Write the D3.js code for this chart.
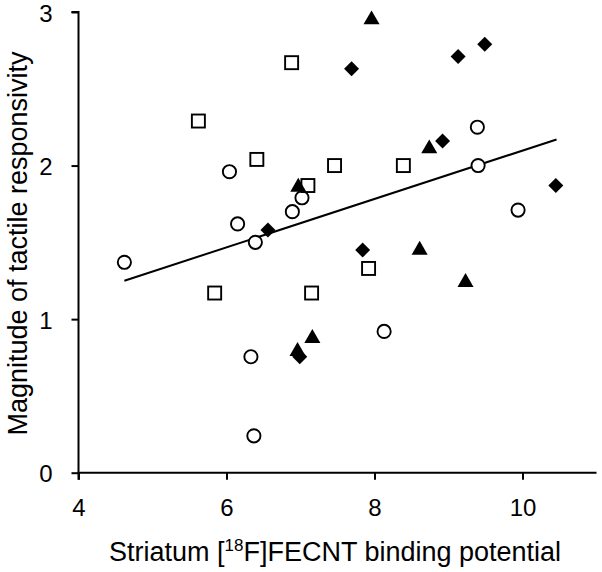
<!DOCTYPE html>
<html>
<head>
<meta charset="utf-8">
<script src="https://cdn.jsdelivr.net/npm/d3@7"></script>
<style>
  html, body { margin: 0; padding: 0; background: #fff; }
  svg { display: block; }
  text { font-family: "Liberation Sans", Arial, sans-serif; fill: #000; }
</style>
</head>
<body>
<div id="chart"></div>
<script>
// ---- Data ----
const circleX   = [4.62, 6.04, 6.15, 6.39, 6.89, 7.02, 6.33, 6.37, 8.13, 9.39, 9.40, 9.94];
const circleY   = [1.37, 1.96, 1.62, 1.50, 1.70, 1.79, 0.755, 0.24, 0.92, 2.25, 2.00, 1.71];
const squareX   = [5.62, 6.41, 6.88, 7.10, 7.46, 8.39, 5.84, 7.15, 7.92];
const squareY   = [2.29, 2.04, 2.67, 1.87, 2.00, 2.00, 1.17, 1.17, 1.33];
const triangleX = [7.96, 8.74, 6.97, 7.16, 6.96, 8.61, 9.23];
const triangleY = [2.95, 2.11, 1.86, 0.875, 0.79, 1.45, 1.24];
const diamondX  = [7.69, 8.92, 9.13, 9.49, 10.45, 6.56, 7.84, 6.99];
const diamondY  = [2.63, 2.16, 2.71, 2.79, 1.87, 1.58, 1.45, 0.755];
const fitX      = [4.62, 10.46];
const fitY      = [1.25, 2.17];
const xTicks    = [4, 6, 8, 10];
const yTicks    = [0, 1, 2, 3];
const xLabelParts = ["Striatum [", "18", "F]FECNT binding potential"];
const yLabel    = "Magnitude of tactile responsivity";

// ---- Layout ----
const W = 602, H = 572;
const svg = d3.select("#chart").append("svg").attr("width", W).attr("height", H);

const x = d3.scaleLinear().domain([4, 11]).range([78.5, 596.5]);
const y = d3.scaleLinear().domain([0, 3]).range([472.7, 12]);

// axes
const xAxis = d3.axisBottom(x).tickValues(xTicks).tickSize(7).tickPadding(19).tickFormat(d3.format("d"));
const yAxis = d3.axisLeft(y).tickValues(yTicks).tickSize(7).tickPadding(19).tickFormat(d3.format("d"));

const gx = svg.append("g").attr("transform", `translate(0,${y(0)})`).call(xAxis);
const gy = svg.append("g").attr("transform", `translate(${x(4)},0)`).call(yAxis);

gx.select(".domain").attr("d", `M${x(4)},7V0H${x(11)}`);
gy.select(".domain").attr("d", `M-7,${y(3)}H0V${y(0)}`);

[gx, gy].forEach(g => {
  g.select(".domain").attr("stroke", "#000").attr("stroke-width", 2);
  g.selectAll(".tick line").attr("stroke", "#000").attr("stroke-width", 2);
  g.selectAll(".tick text").attr("font-size", 24).attr("fill", "#000")
    .style("font-family", '"Liberation Sans", Arial, sans-serif');
});
gy.selectAll(".tick text").attr("dy", "0.38em");

// regression line
svg.append("line")
  .attr("x1", x(fitX[0])).attr("y1", y(fitY[0]))
  .attr("x2", x(fitX[1])).attr("y2", y(fitY[1]))
  .attr("stroke", "#000").attr("stroke-width", 2);

// markers
const zip = (a, b) => a.map((v, i) => [v, b[i]]);

svg.append("g").selectAll("circle").data(zip(circleX, circleY)).join("circle")
  .attr("cx", d => x(d[0])).attr("cy", d => y(d[1])).attr("r", 6.6)
  .attr("fill", "#fff").attr("stroke", "#000").attr("stroke-width", 1.9);

svg.append("g").selectAll("rect").data(zip(squareX, squareY)).join("rect")
  .attr("x", d => x(d[0]) - 6.5).attr("y", d => y(d[1]) - 6.5)
  .attr("width", 13).attr("height", 13)
  .attr("fill", "#fff").attr("stroke", "#000").attr("stroke-width", 1.9);

const tri = d3.symbol().type(d3.symbolTriangle).size(112);
svg.append("g").selectAll("path.tri").data(zip(triangleX, triangleY)).join("path")
  .attr("class", "tri")
  .attr("transform", d => `translate(${x(d[0])},${y(d[1])})`)
  .attr("d", tri).attr("fill", "#000");

const dia = d3.symbol().type(d3.symbolSquare).size(112);
svg.append("g").selectAll("path.dia").data(zip(diamondX, diamondY)).join("path")
  .attr("class", "dia")
  .attr("transform", d => `translate(${x(d[0])},${y(d[1])}) rotate(45)`)
  .attr("d", dia).attr("fill", "#000");

// axis titles
const xt = svg.append("text")
  .attr("x", 335).attr("y", 561)
  .attr("text-anchor", "middle").attr("font-size", 27);
xt.append("tspan").text(xLabelParts[0]);
xt.append("tspan").attr("font-size", 17).attr("dy", -10).text(xLabelParts[1]);
xt.append("tspan").attr("dy", 10).text(xLabelParts[2]);

svg.append("text")
  .attr("transform", `translate(27,243.5) rotate(-90)`)
  .attr("text-anchor", "middle").attr("font-size", 27)
  .text(yLabel);
</script>
</body>
</html>
